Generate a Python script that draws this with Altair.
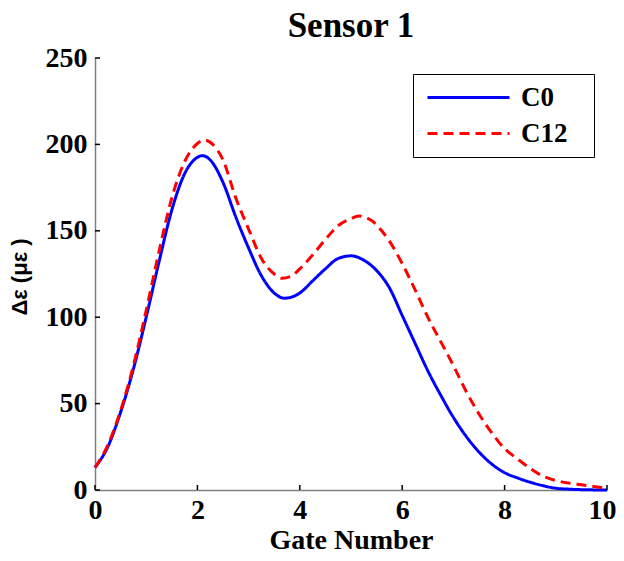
import altair as alt
import pandas as pd

# ---- data ----
x_c0 = [0, 0.25, 0.5, 0.75, 1.0, 1.25, 1.5, 1.75, 2.0, 2.1, 2.25, 2.5, 2.75, 3.0, 3.25, 3.5, 3.7,
        4.0, 4.25, 4.5, 4.75, 5.0, 5.25, 5.5, 5.75, 6.0, 6.25, 6.5, 6.75, 7.0, 7.25, 7.5, 7.75,
        8.0, 8.25, 8.5, 8.75, 9.0, 9.25, 9.5, 10]
y_c0 = [13, 25, 45, 70, 100, 132, 162, 183, 192.5, 193.5, 191, 178, 158, 140, 124, 114, 111,
        114, 121, 128, 134, 135.5, 133, 127, 117, 101, 85, 69, 55, 42, 31, 22, 15,
        10, 7, 4.5, 2.5, 1, 0.5, 0.2, 0]

x_c12 = [0, 0.25, 0.5, 0.75, 1.0, 1.25, 1.5, 1.75, 2.0, 2.15, 2.3, 2.5, 2.75, 3.0, 3.25, 3.5,
         3.65, 3.85, 4.0, 4.25, 4.5, 4.75, 5.0, 5.15, 5.4, 5.6, 5.75, 6.0, 6.25, 6.5, 6.75,
         7.0, 7.25, 7.5, 7.75, 8.0, 8.25, 8.5, 8.75, 9.0, 9.25, 9.5, 9.75, 10]
y_c12 = [13, 26, 46, 72, 104, 138, 169, 190, 200.5, 202.5, 200, 191, 169, 151, 134, 125,
         122.5, 124, 128, 136, 145, 153, 157, 158.5, 156, 150, 144, 131, 116, 100, 86,
         72, 57, 44, 33, 24, 18, 12.5, 8, 5.5, 4, 3, 2, 1]

series_names = ["C0", "C12"]
x_ticks = [0, 2, 4, 6, 8, 10]
y_ticks = [0, 50, 100, 150, 200, 250]

df = pd.concat([
    pd.DataFrame({"x": x_c0, "y": y_c0, "series": "C0", "order": range(len(x_c0))}),
    pd.DataFrame({"x": x_c12, "y": y_c12, "series": "C12", "order": range(len(x_c12))}),
])

SERIF = "Liberation Serif"
W, H = 512, 432

x_scale = alt.Scale(domain=[0, 10], nice=False, zero=False)
y_scale = alt.Scale(domain=[0, 250], nice=False)

x_axis = alt.Axis(values=x_ticks, title="Gate Number", grid=False, ticks=False,
                  labelFont=SERIF, labelFontSize=28, labelFontWeight="bold", labelColor="black",
                  titleFont=SERIF, titleFontSize=28, titleFontWeight="bold", titleColor="black",
                  domainColor="#808080", domainWidth=1.5, labelPadding=6, titlePadding=2,
                  labelFlush=False,
                  labelAlign={"condition": {"test": "datum.value == 10", "value": "right"},
                              "value": "center"},
                  labelOffset={"condition": {"test": "datum.value == 10", "value": 9},
                               "value": 0})
y_axis = alt.Axis(values=y_ticks, title="Δε (με )", grid=False, ticks=False,
                  labelFont=SERIF, labelFontSize=28, labelFontWeight="bold", labelColor="black",
                  titleFont="Liberation Sans", titleFontSize=22, titleFontWeight="bold",
                  titleColor="black", domainColor="#808080", domainWidth=1.5,
                  labelPadding=8, titlePadding=14, titleY=218.5, labelFlush=False)

lines = alt.Chart(df).mark_line(strokeWidth=3, interpolate="monotone").encode(
    x=alt.X("x:Q", scale=x_scale, axis=x_axis),
    y=alt.Y("y:Q", scale=y_scale, axis=y_axis),
    order="order:Q",
    color=alt.Color("series:N",
                    scale=alt.Scale(domain=series_names, range=["#0000ff", "#ff0000"]),
                    legend=alt.Legend(
                        title=None, orient="none", legendX=318, legendY=16,
                        strokeColor="black", fillColor="white", padding=10,
                        symbolType="M-4.1,0H4.1M10.9,0", symbolSize=400, symbolStrokeWidth=3,
                        symbolOffset=32, labelOffset=39, rowPadding=8,
                        labelFont=SERIF, labelFontSize=27, labelFontWeight="bold",
                        labelColor="black")),
    strokeDash=alt.StrokeDash("series:N",
                              scale=alt.Scale(domain=series_names, range=[[1, 0], [10, 6]]),
                              legend=alt.Legend(title=None)),
)

ytick_df = pd.DataFrame({"v": y_ticks})
xtick_df = pd.DataFrame({"v": x_ticks})
yt = alt.Chart(ytick_df).mark_rule(color="black", strokeWidth=1.5).encode(
    y=alt.Y("v:Q", scale=y_scale, axis=y_axis), x=alt.value(0), x2=alt.value(5))
xt = alt.Chart(xtick_df).mark_rule(color="black", strokeWidth=1.5).encode(
    x=alt.X("v:Q", scale=x_scale, axis=x_axis), y=alt.value(H), y2=alt.value(H - 5))

chart = alt.layer(lines, yt, xt).properties(
    width=W, height=H,
    background="white",
    title=alt.Title("Sensor 1", font=SERIF, fontSize=35, fontWeight="bold", color="black",
                    anchor="middle", offset=0),
    autosize=alt.AutoSizeParams(type="none"),
    padding={"left": 87, "top": 50, "right": 9, "bottom": 63},
).configure_view(stroke=None)

chart.save("out.html", embed_options={"renderer": "svg", "actions": False})
